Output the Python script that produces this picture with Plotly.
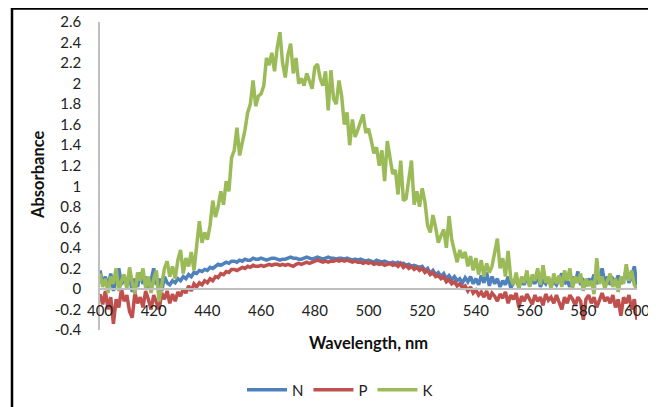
import plotly.graph_objects as go

wavelength = list(range(400, 601))

N_values = [
    0.18, 0.05, 0.12, 0.02, 0.15, -0.02, 0.10, 0.20, 0.04, 0.12,
    0.06, 0.14, -0.03, 0.10, 0.02, 0.16, 0.05, 0.12, 0.00, 0.08,
    0.20, 0.04, 0.10, -0.02, 0.12, 0.06, 0.04, 0.08, 0.06, 0.10,
    0.08, 0.12, 0.10, 0.14, 0.12, 0.16, 0.15, 0.18, 0.17, 0.19,
    0.18, 0.21, 0.20, 0.22, 0.24, 0.23, 0.25, 0.26, 0.25, 0.27,
    0.27, 0.26, 0.28, 0.27, 0.29, 0.28, 0.28, 0.30, 0.29, 0.29,
    0.30, 0.29, 0.28, 0.29, 0.30, 0.30, 0.29, 0.28, 0.29, 0.29,
    0.30, 0.31, 0.30, 0.30, 0.29, 0.29, 0.30, 0.31, 0.30, 0.29,
    0.30, 0.31, 0.30, 0.29, 0.30, 0.31, 0.30, 0.30, 0.29, 0.30,
    0.30, 0.29, 0.30, 0.29, 0.28, 0.29, 0.28, 0.29, 0.28, 0.27,
    0.28, 0.27, 0.26, 0.28, 0.27, 0.26, 0.27, 0.26, 0.25, 0.26,
    0.25, 0.26, 0.24, 0.25, 0.23, 0.24, 0.22, 0.23, 0.22, 0.21,
    0.22, 0.18, 0.20, 0.15, 0.18, 0.14, 0.16, 0.12, 0.15, 0.10,
    0.13, 0.09, 0.12, 0.08, 0.10, 0.06, 0.11, 0.07, 0.12, 0.05,
    0.10, 0.04, 0.13, 0.06, 0.16, 0.03, 0.12, 0.05, 0.10, 0.02,
    0.08, 0.04, 0.12, 0.01, 0.06, 0.10, 0.02, 0.08, 0.04, 0.12,
    0.03, 0.09, 0.05, 0.14, 0.02, 0.08, 0.05, 0.11, 0.03, 0.07,
    0.04, 0.10, 0.15, 0.05, 0.08, 0.02, 0.12, 0.06, 0.17, 0.04,
    0.08, 0.03, 0.10, 0.06, 0.14, 0.05, 0.09, 0.20, 0.06, 0.12,
    0.04, 0.10, 0.07, 0.13, 0.05, 0.09, 0.18, 0.06, 0.12, 0.22,
    0.03,
]

P_values = [
    -0.05, -0.15, -0.02, -0.20, -0.08, -0.34, -0.10, -0.18, 0.00, -0.12,
    -0.06, -0.22, -0.28, -0.04, -0.14, -0.08, -0.18, -0.02, -0.10, -0.20,
    -0.06, -0.14, -0.20, -0.04, -0.10, -0.02, -0.14, -0.05, -0.12, -0.03,
    -0.07, 0.00, -0.04, 0.03, -0.02, 0.05, 0.02, 0.06, 0.04, 0.08,
    0.06, 0.10, 0.08, 0.12, 0.11, 0.15, 0.14, 0.17, 0.16, 0.19,
    0.19, 0.18, 0.20, 0.21, 0.20, 0.22, 0.21, 0.23, 0.22, 0.22,
    0.23, 0.22, 0.23, 0.24, 0.23, 0.24, 0.24, 0.23, 0.24, 0.23,
    0.24, 0.23, 0.22, 0.24, 0.25, 0.24, 0.25, 0.26, 0.25, 0.26,
    0.27, 0.28, 0.27, 0.26, 0.27, 0.26, 0.27, 0.27, 0.28, 0.27,
    0.28, 0.27, 0.28, 0.27, 0.26, 0.27, 0.26, 0.26, 0.25, 0.26,
    0.25, 0.26, 0.24, 0.25, 0.24, 0.25, 0.23, 0.24, 0.25, 0.23,
    0.24, 0.22, 0.25, 0.21, 0.23, 0.20, 0.22, 0.19, 0.21, 0.18,
    0.20, 0.16, 0.18, 0.14, 0.16, 0.12, 0.13, 0.10, 0.12, 0.07,
    0.09, 0.05, 0.07, 0.03, 0.05, 0.01, 0.03, -0.02, 0.02, -0.04,
    -0.01, -0.06, -0.03, -0.08, -0.02, -0.10, -0.04, -0.07, -0.12, -0.05,
    -0.09, -0.03, -0.14, -0.06, -0.10, -0.04, -0.18, -0.07, -0.12, -0.05,
    -0.10, -0.15, -0.06, -0.12, -0.08, -0.16, -0.05, -0.11, -0.08, -0.14,
    -0.06, -0.12, -0.20, -0.08, -0.14, -0.06, -0.10, -0.16, -0.08, -0.12,
    -0.30, -0.10, -0.06, -0.14, -0.08, -0.18, -0.10, -0.04, -0.12, -0.08,
    -0.14, -0.06, -0.18, -0.10, -0.26, -0.08, -0.14, -0.06, -0.20, -0.10,
    -0.30,
]

K_values = [
    0.15, 0.02, 0.10, -0.04, 0.12, 0.05, 0.20, -0.02, 0.08, 0.14,
    0.00, 0.21, 0.06, -0.05, 0.16, 0.08, 0.20, 0.01, 0.12, -0.04,
    0.10, 0.18, -0.12, 0.06, 0.20, 0.27, 0.12, 0.22, 0.10, 0.28,
    0.38, 0.15, 0.30, 0.22, 0.36, 0.18, 0.40, 0.66, 0.45, 0.55,
    0.48, 0.62, 0.86, 0.70, 0.80, 0.95, 0.82, 1.05, 0.95, 1.28,
    1.35, 1.57, 1.30, 1.42, 1.55, 1.72, 1.80, 2.03, 1.78, 1.88,
    1.90, 1.98, 2.25, 2.18, 2.30, 2.12, 2.35, 2.50, 2.20, 2.06,
    2.28, 2.39, 2.10, 2.25, 2.00, 2.05, 1.98, 2.10, 2.02, 1.95,
    2.16, 2.19, 2.05, 1.98, 2.12, 1.74, 2.13, 1.85, 1.80, 2.03,
    1.88, 1.60, 1.72, 1.40, 1.65, 1.48, 1.55, 1.62, 1.70, 1.52,
    1.56, 1.45, 1.32, 1.38, 1.20, 1.35, 1.05, 1.44, 1.30, 1.12,
    1.16, 0.92, 1.25, 0.86, 0.88, 1.10, 1.25, 0.82, 0.95, 0.80,
    0.98, 0.85, 0.62, 0.55, 0.72, 0.60, 0.45, 0.52, 0.58, 0.40,
    0.71, 0.48, 0.35, 0.26, 0.38, 0.30, 0.36, 0.22, 0.32, 0.18,
    0.30, 0.14, 0.28, 0.12, 0.25, 0.16, 0.22, 0.34, 0.49, 0.20,
    0.30, 0.12, 0.37, 0.10, 0.04, 0.16, 0.00, 0.12, 0.06, 0.18,
    0.02, 0.14, 0.08, 0.20, 0.04, 0.23, 0.06, 0.12, 0.00, 0.15,
    0.05, 0.13, 0.02, 0.18, 0.08, 0.20, 0.01, 0.12, 0.06, 0.15,
    -0.02, 0.10, 0.03, 0.08, -0.05, 0.30, 0.05, 0.12, 0.00, 0.08,
    0.15, 0.02, 0.10, -0.03, 0.12, 0.05, 0.24, 0.08, 0.18, 0.04,
    0.00,
]

series_names = ["N", "P", "K"]
series_colors = ["#4F81BD", "#C0504D", "#9BBB59"]

x_tickvals = [400, 420, 440, 460, 480, 500, 520, 540, 560, 580, 600]
x_ticktext = ["400", "420", "440", "460", "480", "500", "520", "540", "560", "580", "600"]
y_tickvals = [-0.4, -0.2, 0, 0.2, 0.4, 0.6, 0.8, 1, 1.2, 1.4, 1.6, 1.8, 2, 2.2, 2.4, 2.6]
y_ticktext = ["-0.4", "-0.2", "0", "0.2", "0.4", "0.6", "0.8", "1", "1.2", "1.4",
              "1.6", "1.8", "2", "2.2", "2.4", "2.6"]

FONT = "Lato, 'Open Sans', sans-serif"

fig = go.Figure()
for name, vals, col in zip(series_names, [N_values, P_values, K_values], series_colors):
    fig.add_trace(go.Scatter(x=wavelength, y=vals, mode="lines", name=name,
                             line=dict(color=col, width=3.5)))

# page has an 8px body margin; reference pixel coords are converted accordingly
OFF = 8
W, H = 656 - OFF, 407 - OFF
# plot area in reference pixels: x 100..637, y 22..330
L = 100 - OFF
T = 22 - OFF
R = W - (637 - OFF)
B = H - (330 - OFF)
pw, ph = W - L - R, H - T - B

def px_x(p):
    return (p - OFF - L) / pw

def px_y(p):
    return (H - B - (p - OFF)) / ph

fig.update_layout(
    width=W, height=H,
    margin=dict(l=L, r=R, t=T, b=B, pad=0, autoexpand=False),
    paper_bgcolor="white", plot_bgcolor="white",
    font=dict(family=FONT, size=15, color="#222"),
    showlegend=True,
    legend=dict(orientation="h", x=px_x(340), y=px_y(390), xanchor="center", yanchor="middle",
                font=dict(size=15, color="#222"), itemwidth=40, tracegroupgap=0),
    xaxis=dict(range=[400, 600], tickvals=x_tickvals, ticktext=x_ticktext,
               showgrid=False, zeroline=False, showline=True, linecolor="#BFBFBF", linewidth=1.5,
               anchor="free", position=0.4 / 3.0, ticks="", ticklabelstandoff=8,
               tickfont=dict(size=15, color="#222")),
    yaxis=dict(range=[-0.4, 2.6], tickvals=y_tickvals, ticktext=y_ticktext,
               showgrid=False, zeroline=False, showline=True, linecolor="#BFBFBF", linewidth=1.5,
               ticks="", ticklabelstandoff=14, tickfont=dict(size=15, color="#222")),
    annotations=[
        dict(text="<b>Wavelength, nm</b>", x=px_x(368), y=px_y(343), xref="paper", yref="paper",
             showarrow=False, font=dict(size=16.5, color="#111"), xanchor="center", yanchor="middle"),
        dict(text="<b>Absorbance</b>", x=px_x(38), y=px_y(175), xref="paper", yref="paper",
             showarrow=False, textangle=-90, font=dict(size=16.5, color="#111"),
             xanchor="center", yanchor="middle"),
    ],
    shapes=[
        dict(type="line", xref="paper", yref="paper", x0=px_x(12), x1=px_x(12),
             y0=px_y(7), y1=px_y(410), line=dict(color="black", width=2.5)),
        dict(type="line", xref="paper", yref="paper", x0=px_x(11), x1=px_x(660),
             y0=px_y(8.5), y1=px_y(8.5), line=dict(color="black", width=2.5)),
    ],
)

fig.write_html("out.html")
